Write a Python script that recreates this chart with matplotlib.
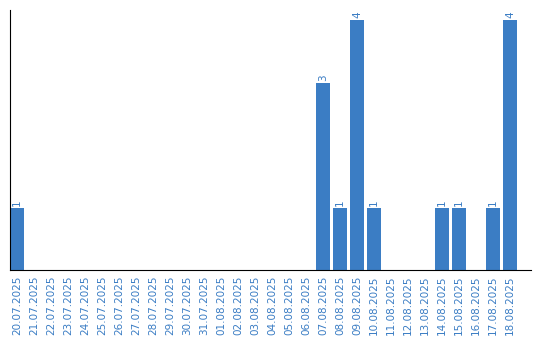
import matplotlib
matplotlib.use('Agg')
import matplotlib.pyplot as plt
import numpy as np

dates = ['20.07.2025', '21.07.2025', '22.07.2025', '23.07.2025', '24.07.2025',
         '25.07.2025', '26.07.2025', '27.07.2025', '28.07.2025', '29.07.2025',
         '30.07.2025', '31.07.2025', '01.08.2025', '02.08.2025', '03.08.2025',
         '04.08.2025', '05.08.2025', '06.08.2025', '07.08.2025', '08.08.2025',
         '09.08.2025', '10.08.2025', '11.08.2025', '12.08.2025', '13.08.2025',
         '14.08.2025', '15.08.2025', '16.08.2025', '17.08.2025', '18.08.2025']
counts = [1, 0, 0, 0, 0, 0, 0, 0, 0, 0,
          0, 0, 0, 0, 0, 0, 0, 0, 3, 1,
          4, 1, 0, 0, 0, 1, 1, 0, 1, 4]

color = '#3b7dc4'
bar_w = 14 / 17

fig = plt.figure(figsize=(5.4, 3.4), dpi=100)
ax = fig.add_axes([10 / 540, 70 / 340, 521 / 540, 260 / 340])

x = np.arange(len(dates))
bars = ax.bar(x, counts, width=bar_w, align='edge', color=color)

for b, v in zip(bars, counts):
    if v > 0:
        ax.text(b.get_x() + b.get_width() / 2, v + 0.03, str(v), rotation=90,
                ha='center', va='bottom', color=color, fontsize=7.5)

ax.set_xlim(0, 521 / 17)
ax.set_ylim(0, 4.16)
ax.set_xticks(x + bar_w / 2)
ax.set_xticklabels(dates, rotation=90, color=color, fontsize=7.5)
ax.tick_params(axis='x', length=0, pad=4)
ax.set_yticks([])
ax.spines['top'].set_visible(False)
ax.spines['right'].set_visible(False)

fig.savefig('out.png', dpi=100)
